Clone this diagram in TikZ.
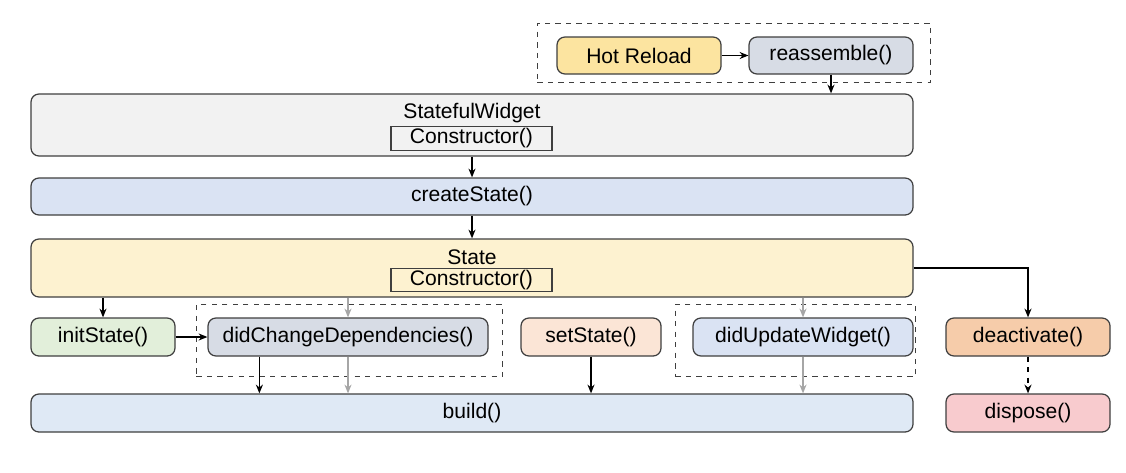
\documentclass[tikz,border=0pt]{standalone}
\usepackage{fontspec}
\setmainfont{Liberation Sans}
\usepackage{xcolor}
\usetikzlibrary{arrows.meta, positioning, fit, calc}

\definecolor{edgeGray}{HTML}{3F3F3F}
\definecolor{hotFill}{HTML}{FCE4A0}
\definecolor{methodFill}{HTML}{D7DCE5}
\definecolor{widgetFill}{HTML}{F2F2F2}
\definecolor{createFill}{HTML}{DAE3F3}
\definecolor{stateFill}{HTML}{FDF2D0}
\definecolor{initFill}{HTML}{E2EFDA}
\definecolor{setFill}{HTML}{FBE5D6}
\definecolor{deactFill}{HTML}{F6CCAA}
\definecolor{disposeFill}{HTML}{F8CBCE}
\definecolor{buildFill}{HTML}{DFE9F5}

\begin{document}
\begin{tikzpicture}[
    box/.style={rectangle, rounded corners=4.5pt, draw=edgeGray, line width=0.7pt, minimum height=0.76cm, inner sep=0pt, align=center, font=\large},
    ctorbox/.style={rectangle, draw=edgeGray, line width=0.7pt, minimum width=3.22cm, minimum height=0.47cm, inner sep=0pt, font=\large},
    title/.style={inner sep=0pt, font=\large},
    group/.style={draw=edgeGray, dashed, line width=0.6pt, inner sep=0pt},
    arrow/.style={-{Stealth[length=5pt, width=4pt]}, line width=0.8pt, draw=black},
    softarrow/.style={arrow, draw=black!35}
]
\useasboundingbox (0,0) rectangle (22.52,-9.44);

% hot reload
\node[box, fill=hotFill, minimum width=3.28cm, minimum height=0.74cm] (hot) at (12.78,-1.11) {Hot Reload};
\node[box, fill=methodFill, minimum width=3.28cm, minimum height=0.74cm] (reasm) at (16.62,-1.11) {reassemble()};
\node[group, fit={($(hot.north west)+(-0.38,0.26)$) ($(reasm.south east)+(0.34,-0.16)$)}] (grpReload) {};

% widget and state
\node[box, fill=widgetFill, minimum width=17.64cm, minimum height=1.24cm] (widget) at (9.44,-2.5) {};
\node[title] (widgetTitle) at (9.44,-2.26) {StatefulWidget};
\node[ctorbox] (widgetCtor) at (9.43,-2.77) {Constructor()};
\node[box, fill=createFill, minimum width=17.64cm, minimum height=0.74cm] (create) at (9.44,-3.93) {createState()};
\node[box, fill=stateFill, minimum width=17.64cm, minimum height=1.16cm] (state) at (9.44,-5.36) {};
\node[title] (stateTitle) at (9.44,-5.14) {State};
\node[ctorbox] (stateCtor) at (9.43,-5.6) {Constructor()};

% lifecycle row
\node[box, fill=initFill, minimum width=2.88cm] (init) at (2.06,-6.74) {initState()};
\node[box, fill=methodFill, minimum width=5.6cm] (didchg) at (6.96,-6.74) {didChangeDependencies()};
\node[box, fill=setFill, minimum width=2.8cm] (setst) at (11.82,-6.74) {setState()};
\node[box, fill=createFill, minimum width=4.4cm] (didupd) at (16.06,-6.74) {didUpdateWidget()};
\node[box, fill=deactFill, minimum width=3.28cm] (deact) at (20.56,-6.74) {deactivate()};
\node[group, fit={($(didchg.north west)+(-0.22,0.26)$) ($(didchg.south east)+(0.28,-0.40)$)}] (grpChange) {};
\node[group, fit={($(didupd.north west)+(-0.34,0.26)$) ($(didupd.south east)+(0.04,-0.40)$)}] (grpUpdate) {};

\node[box, fill=buildFill, minimum width=17.64cm] (build) at (9.44,-8.26) {build()};
\node[box, fill=disposeFill, minimum width=3.28cm] (dispose) at (20.56,-8.26) {dispose()};

\draw[arrow] (hot) -- (reasm);
\draw[arrow] (reasm.south) -- (reasm.south |- widget.north);
\draw[arrow] (widget) -- (create);
\draw[arrow] (create) -- (state);
\draw[arrow] (init.north |- state.south) -- (init.north);
\draw[arrow] (init) -- (didchg);
\draw[softarrow] (didchg.north |- state.south) -- (didchg.north);
\draw[softarrow] (didchg.south) -- (didchg.south |- build.north);
\draw[arrow] ([xshift=1.04cm]didchg.south west) -- ([xshift=1.04cm]didchg.south west |- build.north);
\draw[arrow] (setst.south) -- (setst.south |- build.north);
\draw[softarrow] (didupd.north |- state.south) -- (didupd.north);
\draw[softarrow] (didupd.south) -- (didupd.south |- build.north);
\draw[arrow] (state.east) -| (deact.north);
\draw[arrow, dashed] (deact) -- (dispose);

\end{tikzpicture}
\end{document}
